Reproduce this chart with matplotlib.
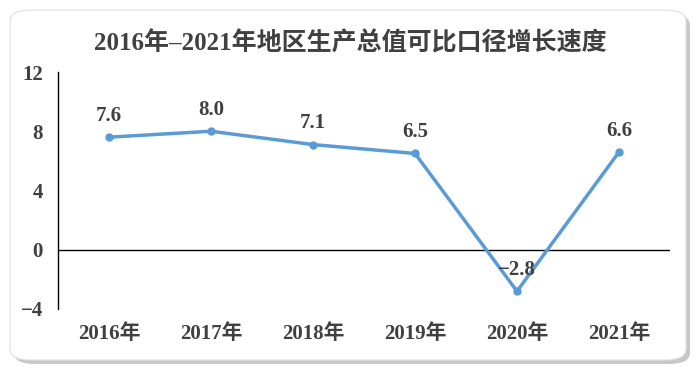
import matplotlib
matplotlib.use("Agg")
import matplotlib.pyplot as plt
from matplotlib.patches import FancyBboxPatch

# data
years = ['2016年', '2017年', '2018年', '2019年', '2020年', '2021年']
growth = [7.6, 8.0, 7.1, 6.5, -2.8, 6.6]
yticks = [-4, 0, 4, 8, 12]
title = '2016年–2021年地区生产总值可比口径增长速度'

fam = ['Liberation Serif', 'Noto Sans CJK SC']
txt = '#404040'

fig = plt.figure(figsize=(7, 3.76), dpi=100)
fig.patch.set_facecolor('white')

# card with shadow
shadow = FancyBboxPatch((14 / 700, 1 - 364 / 376), 676 / 700, 350 / 376,
                        boxstyle='round,pad=0,rounding_size=0.03',
                        transform=fig.transFigure, facecolor='#c8c8c8',
                        edgecolor='none', zorder=0)
card = FancyBboxPatch((10 / 700, 1 - 360 / 376), 676 / 700, 350 / 376,
                      boxstyle='round,pad=0,rounding_size=0.03',
                      transform=fig.transFigure, facecolor='white',
                      edgecolor='#e0e0e0', linewidth=0.8, zorder=1)
fig.patches.extend([shadow, card])

ax = fig.add_axes([58 / 700, 1 - 309 / 376, 612 / 700, 237 / 376])
ax.set_zorder(5)
ax.patch.set_alpha(0)
x = list(range(len(years)))
ax.plot(x, growth, color='#5B9BD5', linewidth=2.5, marker='o', markersize=5, zorder=3)
for xi, v in zip(x, growth):
    lab = ('−%.1f' % abs(v)) if v < 0 else '%.1f' % v
    ax.annotate(lab, (xi, v), xytext=(0, 8), textcoords='offset points',
                ha='center', va='bottom', fontsize=15, fontweight='bold',
                color=txt, family=fam, zorder=4)

ax.axhline(0, color='black', linewidth=1, zorder=2)
ax.set_xlim(-0.5, len(years) - 0.5)
ax.set_ylim(-4, 12)
ax.set_yticks(yticks)
ax.set_yticklabels([('−%d' % abs(t)) if t < 0 else str(t) for t in yticks])
ax.set_xticks(x)
ax.set_xticklabels(years)
for s in ['top', 'right', 'bottom']:
    ax.spines[s].set_visible(False)
ax.spines['left'].set_color('black')
ax.spines['left'].set_linewidth(1)
ax.tick_params(axis='both', length=0)
ax.tick_params(axis='y', pad=11)
ax.tick_params(axis='x', pad=11)
for lab in ax.get_yticklabels() + ax.get_xticklabels():
    lab.set_family(fam)
    lab.set_fontweight('bold')
    lab.set_fontsize(15)
    lab.set_color(txt)

fig.text(0.5, 1 - 43 / 376, title, ha='center', va='center', fontsize=18,
         fontweight='bold', color=txt, family=fam, zorder=6)

fig.savefig('out.png', dpi=100)
